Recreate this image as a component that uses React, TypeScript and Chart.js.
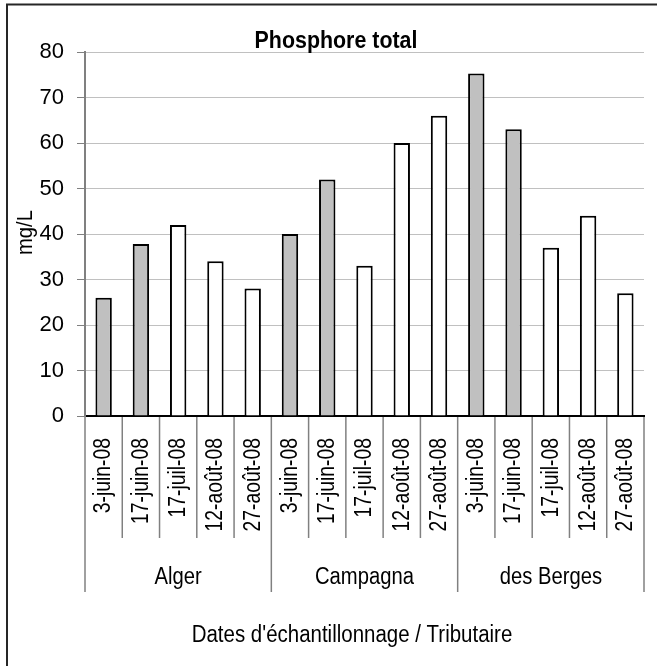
import React, { useEffect, useRef } from "react";
import { Chart, registerables } from "chart.js";

Chart.register(...registerables);

const chartTitle = "Phosphore total";
const yAxisTitle = "mg/L";
const xAxisTitle = "Dates d'échantillonnage / Tributaire";
const tributaries = ["Alger", "Campagna", "des Berges"];
const sampleDates = ["3-juin-08", "17-juin-08", "17-juil-08", "12-août-08", "27-août-08"];
const algerValues = [26, 37.8, 42, 34, 28];
const campagnaValues = [40, 52, 33, 60, 66];
const desBergesValues = [75.3, 63, 37, 44, 27];
const shadedDates = [true, true, false, false, false];
const yMin = 0;
const yMax = 80;
const yStep = 10;

const FONT = "'Liberation Sans', Arial, sans-serif";
const W = 657;
const H = 666;

const seriesByTributary = [algerValues, campagnaValues, desBergesValues];
const categoryLabels: string[] = [];
const values: number[] = [];
const fills: string[] = [];
tributaries.forEach((_, g) => {
  sampleDates.forEach((d, i) => {
    categoryLabels.push(d);
    values.push(seriesByTributary[g][i]);
    fills.push(shadedDates[i] ? "#C0C0C0" : "#FFFFFF");
  });
});

// draw text condensed horizontally (Arial Narrow look)
function narrowText(
  ctx: CanvasRenderingContext2D,
  text: string,
  x: number,
  y: number,
  angle: number,
  sx: number,
  align: CanvasTextAlign,
  baseline: CanvasTextBaseline
) {
  ctx.save();
  ctx.translate(x, y);
  ctx.rotate(angle);
  ctx.scale(sx, 1);
  ctx.textAlign = align;
  ctx.textBaseline = baseline;
  ctx.fillText(text, 0, 0);
  ctx.restore();
}

const decorPlugin = {
  id: "decor",
  afterDraw(chart: any) {
    const ctx = chart.ctx as CanvasRenderingContext2D;
    const xs = chart.scales.x;
    const area = chart.chartArea;
    const n = categoryLabels.length;
    const step = xs.getPixelForValue(1) - xs.getPixelForValue(0);
    ctx.save();

    // frame
    ctx.strokeStyle = "#262626";
    ctx.lineWidth = 2;
    ctx.beginPath();
    ctx.moveTo(7, H);
    ctx.lineTo(7, 4.5);
    ctx.lineTo(W, 4.5);
    ctx.stroke();

    // category separators
    ctx.strokeStyle = "#808080";
    ctx.lineWidth = 1.5;
    for (let i = 0; i <= n; i++) {
      const px = i < n ? xs.getPixelForValue(i) - step / 2 : xs.getPixelForValue(n - 1) + step / 2;
      const isGroup = i % sampleDates.length === 0;
      ctx.beginPath();
      ctx.moveTo(px, area.bottom + 1);
      ctx.lineTo(px, area.bottom + (isGroup ? 176 : 122));
      ctx.stroke();
    }

    ctx.fillStyle = "#000";

    // date labels (rotated)
    ctx.font = `23px ${FONT}`;
    for (let i = 0; i < n; i++) {
      const px = xs.getPixelForValue(i);
      narrowText(ctx, categoryLabels[i], px + 0.5, area.bottom + 22, -Math.PI / 2, 0.84, "right", "middle");
    }

    // group labels
    ctx.font = `23px ${FONT}`;
    tributaries.forEach((t, g) => {
      const first = xs.getPixelForValue(g * sampleDates.length);
      const last = xs.getPixelForValue(g * sampleDates.length + sampleDates.length - 1);
      narrowText(ctx, t, (first + last) / 2, area.bottom + 168, 0, 0.88, "center", "alphabetic");
    });

    // x axis title
    ctx.font = `23px ${FONT}`;
    narrowText(ctx, xAxisTitle, 352, 642, 0, 0.89, "center", "alphabetic");

    // chart title
    ctx.font = `bold 23px ${FONT}`;
    narrowText(ctx, chartTitle, 336, 48, 0, 0.93, "center", "alphabetic");

    // y axis title
    ctx.font = `22px ${FONT}`;
    narrowText(ctx, yAxisTitle, 32, 232.5, -Math.PI / 2, 0.92, "center", "alphabetic");

    ctx.restore();
  },
};

export default function App() {
  const ref = useRef<HTMLCanvasElement | null>(null);
  useEffect(() => {
    document.body.style.margin = "0";
    const canvas = ref.current;
    if (!canvas) return;
    const chart = new Chart(canvas, {
      type: "bar",
      data: {
        labels: categoryLabels,
        datasets: [
          {
            data: values,
            backgroundColor: fills,
            borderColor: "#000000",
            borderWidth: 2,
            borderSkipped: "start",
            barPercentage: 0.44,
            categoryPercentage: 1,
          },
        ],
      },
      options: {
        responsive: false,
        animation: false,
        devicePixelRatio: 1,
        layout: { padding: { top: 52, right: 13, left: 0, bottom: 0 } },
        plugins: {
          legend: { display: false },
          tooltip: { enabled: false },
          title: { display: false },
        },
        scales: {
          x: {
            type: "category",
            offset: true,
            grid: { display: false },
            ticks: { display: false },
            border: { display: true, color: "#000000", width: 2 },
            afterFit: (s: any) => {
              s.height = 250;
            },
          },
          y: {
            min: yMin,
            max: yMax,
            ticks: {
              stepSize: yStep,
              color: "#000000",
              font: { family: FONT, size: 22 },
              padding: 13,
            },
            grid: {
              color: "#C0C0C0",
              lineWidth: 1,
              tickColor: "#808080",
              tickLength: 8,
            },
            border: { color: "#808080", width: 2 },
            afterFit: (s: any) => {
              s.width = 85;
            },
          },
        },
      },
      plugins: [decorPlugin],
    });
    return () => chart.destroy();
  }, []);
  return (
    <div style={{ width: W, height: H, background: "#fff", position: "relative" }}>
      <canvas ref={ref} width={W} height={H} style={{ display: "block", width: W, height: H }} />
    </div>
  );
}
